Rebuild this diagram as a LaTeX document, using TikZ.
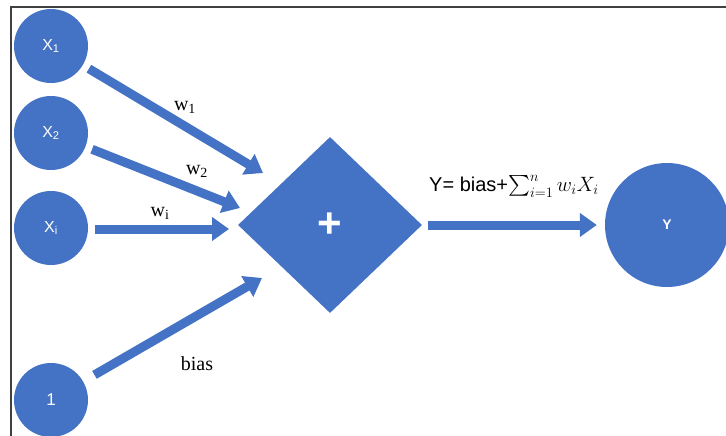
\documentclass[tikz,border=0pt]{standalone}
\usepackage{exscale}
\usepackage{fontspec}
\setmainfont{Liberation Serif}
\setsansfont{Liberation Sans}
\usetikzlibrary{arrows.meta,shapes.geometric}
\definecolor{nodeblue}{HTML}{4472C4}
\definecolor{framegray}{HTML}{404040}

\begin{document}
\begin{tikzpicture}[x=1pt,y=-1pt,
  unit/.style={circle,fill=nodeblue,draw=none,minimum size=74pt,inner sep=0pt,
    text=white,font=\sffamily\fontsize{16}{18}\selectfont},
  arr/.style={draw=nodeblue,line width=9pt,
    -{Triangle[length=17pt,width=23pt]}},
  wlabel/.style={font=\fontsize{20}{22}\selectfont,inner sep=0pt}]
\useasboundingbox (0,0) rectangle (726,436);
\clip (0,0) rectangle (726,436);

% frame edges
\draw[framegray,line width=1.2pt] (726,7) -- (11,7) -- (11,436);

% inputs
\node[unit] (x1) at (51,46)  {X\textsubscript{1}};
\node[unit] (x2) at (51,133) {X\textsubscript{2}};
\node[unit] (xi) at (51,228) {X\textsubscript{i}};
\node[unit,font=\sffamily\fontsize{17}{19}\selectfont] (one) at (51,400) {1};

% summation and output
\node[diamond,fill=nodeblue,minimum width=184pt,minimum height=176pt,inner sep=0pt,
  text=white,font=\sffamily\bfseries\fontsize{42}{44}\selectfont] (plus) at (330,225) {+};
\node[unit,minimum size=124pt,font=\sffamily\bfseries\fontsize{14}{16}\selectfont] (y) at (667,225) {Y};

% arrow tips in front of the summation node
\coordinate (t1) at (263,173);
\coordinate (t2) at (240,208);
\coordinate (ti) at (229,229);
\coordinate (tb) at (262,278);

\draw[arr,shorten <=7pt] (x1) -- (t1);
\draw[arr,shorten <=7pt] (x2) -- (t2);
\draw[arr,shorten <=7pt] ([yshift=-1pt]xi.east) -- (ti);
\draw[arr,shorten <=13pt] (one) -- (tb);
\draw[arr,shorten <=6pt,shorten >=8pt] (plus) -- (y);

% weights
\node[wlabel] (lw1) at (185,107) {w\textsubscript{1}};
\node[wlabel] (lw2) at (197,171) {w\textsubscript{2}};
\node[wlabel] (lwi) at (160,213) {w\textsubscript{i}};
\node[wlabel] (lb)  at (197,364) {bias};
\node[inner sep=0pt,font=\sffamily\fontsize{20}{22}\selectfont] (eq) at (514,186)
  {Y= bias+{\fontsize{21}{23}\selectfont$\sum_{i=1}^{n} w_i X_i$}};
\end{tikzpicture}
\end{document}
